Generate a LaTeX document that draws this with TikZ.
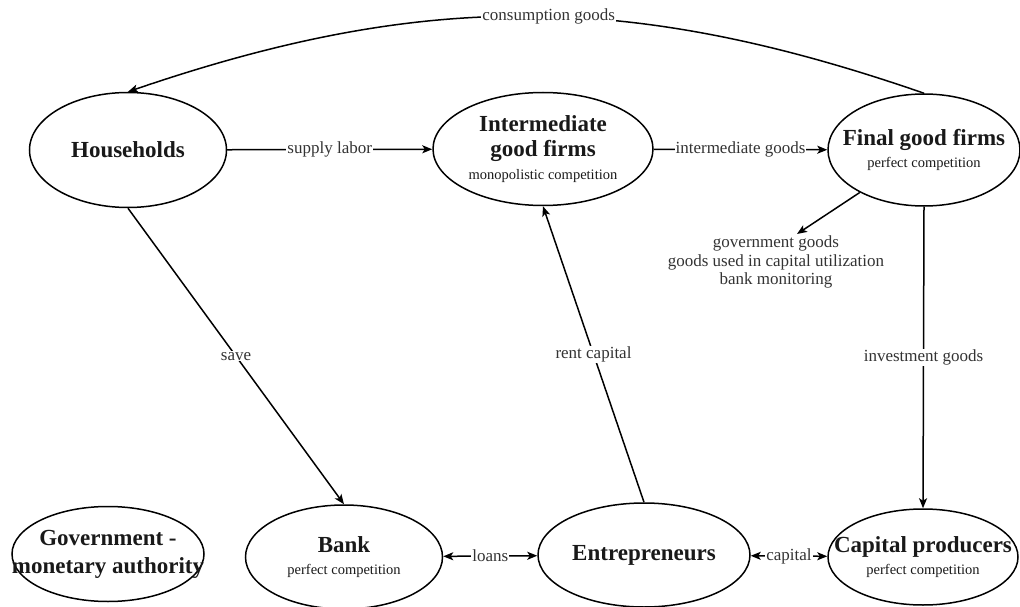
\documentclass[tikz,border=0pt]{standalone}
\usepackage{fontspec}
\setmainfont{Liberation Serif}
\usetikzlibrary{shapes.geometric,arrows.meta}
\tikzset{
  agent/.style={draw, ellipse, line width=1.5pt, inner sep=0pt},
  txt/.style={align=center, text=black!90, inner sep=0pt, font=\fontsize{23}{26}\selectfont\bfseries},
  flow/.style={line width=1.5pt, -{Stealth[length=10pt,width=8pt,inset=2.5pt]}},
  both/.style={line width=1.5pt, {Stealth[length=10pt,width=8pt,inset=2.5pt]}-{Stealth[length=10pt,width=8pt,inset=2.5pt]}},
  lab/.style={fill=white, inner sep=1pt, text=black!80, font=\fontsize{17}{19}\selectfont},
}
\newcommand{\subl}[1]{{\fontsize{14.5}{16}\selectfont\mdseries #1}}
\begin{document}
\begin{tikzpicture}[x=1pt,y=-1pt]
\useasboundingbox (0,0) rectangle (1020,607);
\node[agent, minimum width=197pt, minimum height=115pt, label={[txt]center:Households}] (hh) at (128,150) {};
\node[agent, minimum width=220pt, minimum height=113pt, label={[txt]center:{Intermediate\\[-1pt]good firms\\[-3pt]\subl{monopolistic competition}}}] (igf) at (543,149) {};
\node[agent, minimum width=192pt, minimum height=112pt, label={[txt]center:{Final good firms\\[-4pt]\subl{perfect competition}}}] (fgf) at (924,150) {};
\node[agent, minimum width=192pt, minimum height=95pt, label={[txt]center:{Government -\\[2pt]monetary authority}}] (gov) at (108,554) {};
\node[agent, minimum width=197pt, minimum height=104pt, label={[txt]center:{Bank\\[-4pt]\subl{perfect competition}}}] (bank) at (344,557) {};
\node[agent, minimum width=212pt, minimum height=104pt, label={[txt]center:Entrepreneurs}] (ent) at (644,555) {};
\node[agent, minimum width=190pt, minimum height=96pt, label={[txt]center:{Capital producers\\[-4pt]\subl{perfect competition}}}] (cap) at (923,557) {};
\node[align=center, text=black!80, font=\fontsize{17}{18.5}\selectfont, inner sep=0pt] (gg) at (776,262) {government goods\\goods used in capital utilization\\bank monitoring};
\coordinate (ggtip) at (797,234);

\draw[flow] (fgf.north) to[bend right=19] node[lab, pos=0.47] {consumption goods} (hh.north);
\draw[flow] (hh) -- node[lab] {supply labor} (igf);
\draw[flow] (igf) -- node[lab] {intermediate goods} (fgf);
\draw[flow] (fgf) -- (ggtip);
\draw[flow] (fgf.south) -- node[lab] {investment goods} (cap.north);
\draw[flow] (hh.south) -- node[lab] {save} (bank.north);
\draw[flow] (ent.north) -- node[lab] {rent capital} (igf.south);
\draw[both] (bank) -- node[lab] {loans} (ent);
\draw[both] (ent) -- node[lab] {capital} (cap);
\end{tikzpicture}
\end{document}
